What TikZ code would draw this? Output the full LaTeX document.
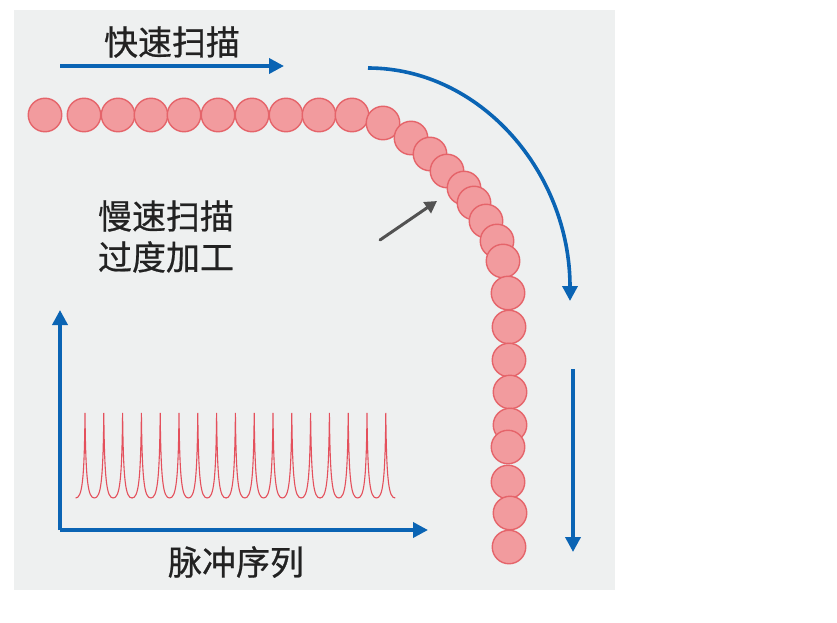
\documentclass[tikz,border=0pt]{standalone}
\usepackage{fontspec}
\newfontfamily\cjk[FakeBold=0.6]{Noto Sans CJK SC}
\usetikzlibrary{arrows.meta}
\definecolor{bg}{HTML}{EEF0F0}
\definecolor{dotfill}{HTML}{F29B9E}
\definecolor{dotline}{HTML}{E5646A}
\definecolor{scanblue}{HTML}{0A64B4}
\definecolor{pulsered}{HTML}{E4505C}
\definecolor{txt}{HTML}{222222}
\tikzset{
  dot/.style={circle,minimum size=33.5pt,inner sep=0pt,fill=dotfill,draw=dotline,line width=1.4pt},
  label/.style={font=\cjk\fontsize{34}{40}\selectfont,text=txt,inner sep=0pt},
  bluearrow/.style={draw=scanblue,line width=3.6pt,-{Triangle[length=15pt,width=15pt]}},
  grayarrow/.style={draw=black!68,line width=3pt,line cap=round,-{Triangle[length=12pt,width=13pt]}},
  pulse/.style={draw=pulsered,line width=1.1pt}
}
\begin{document}
\begin{tikzpicture}[x=1pt,y=-1pt]
\useasboundingbox (0,0) rectangle (837,623);
\fill[bg] (14,10) rectangle (615,590);
% texts
\node[label] (fast) at (172,42) {快速扫描};
\node[label,align=left] (slow) at (166,236.5) {慢速扫描\\[1pt]过度加工};
\node[label] (train) at (236,562) {脉冲序列};
% blue arrows
\coordinate (fa) at (60,66); \coordinate (fb) at (284,66);
\draw[bluearrow] (fa) -- (fb);
\coordinate (aa) at (368,68); \coordinate (ab) at (570,301);
\draw[bluearrow] (aa) .. controls (480,68) and (570,172) .. (ab);
\coordinate (va) at (573,369); \coordinate (vb) at (573,552);
\draw[bluearrow] (va) -- (vb);
\coordinate (o) at (60,530); \coordinate (yt) at (60,310); \coordinate (xt) at (428,530);
\draw[bluearrow] (o) -- (yt);
\draw[bluearrow] (o) -- (xt);
% circles
\foreach \x/\y [count=\i] in {45/115,84/115,118/115,151/115,184/115,218/115,252/115,286/115,319/115,352/115,
  383/123,411/138,430/154,447/171,464/188,474/203,486/221,497/241,503/261,
  508/293,509/327,509/360,510/392,510/425,508/447,508/482,510/513,509/547}
  \node[dot] (c\i) at (\x,\y) {};
% gray arrow
\coordinate (ga) at (380,240); \coordinate (gb) at (437,201);
\draw[grayarrow] (ga) -- (gb);
% pulses
\foreach \i in {0,...,16}{
  \pgfmathsetmacro{\xc}{85+18.8*\i}
  \draw[pulse] (\xc-9.4,498) .. controls (\xc-3,498) and (\xc-0.7,482) .. (\xc,413)
     .. controls (\xc+0.7,482) and (\xc+3,498) .. (\xc+9.4,498);
}
\end{tikzpicture}
\end{document}
